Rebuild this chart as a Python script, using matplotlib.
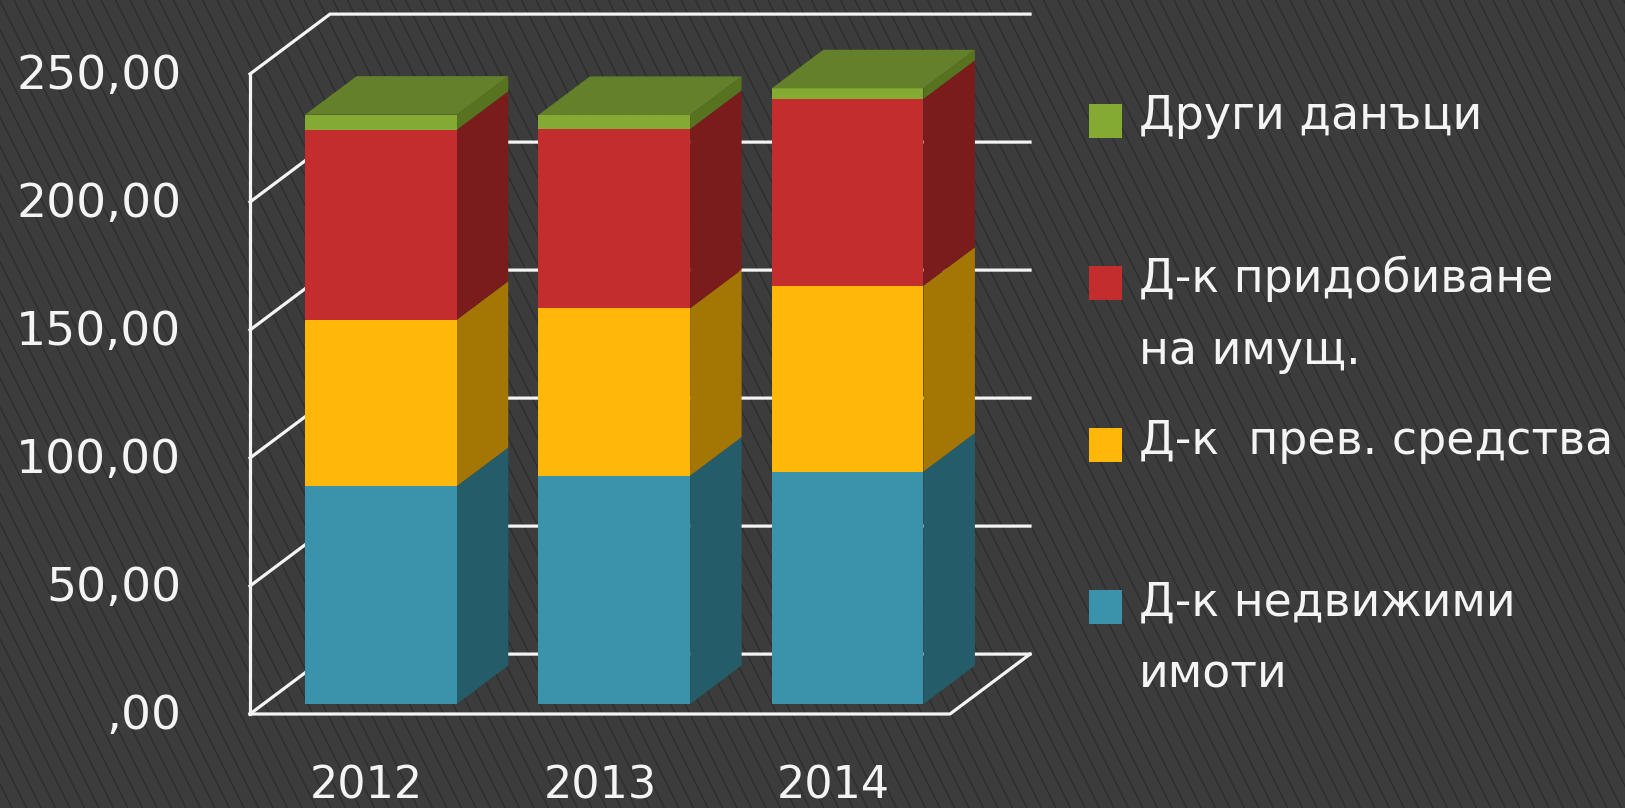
import matplotlib
matplotlib.use("Agg")
import matplotlib.pyplot as plt
import numpy as np
from matplotlib.patches import Polygon, Rectangle
from matplotlib.transforms import ScaledTranslation

years = ['2012', '2013', '2014']
ytick_vals = [0, 50, 100, 150, 200, 250]
ytick_labels = [',00', '50,00', '100,00', '150,00', '200,00', '250,00']

nedvizhimi = [85.1, 89.2, 90.8]
prev_sredstva = [65.0, 65.4, 72.6]
pridobivane = [74.2, 70.0, 73.0]
drugi = [5.9, 5.5, 4.1]

# bottom to top in the stack: values, front colour, side colour
series = [
    (nedvizhimi, '#3b92ab', '#245c6a'),
    (prev_sredstva, '#ffb70a', '#a47604'),
    (pridobivane, '#c32d2e', '#7a1c1c'),
    (drugi, '#84aa33', '#587320'),
]
top_colour = '#65802a'

# legend rows: text lines with baseline in pixels, square top in pixels, colour
legend_rows = [
    (['Други данъци'], [129], 104, '#84aa33'),
    (['Д-к придобиване', 'на имущ.'], [292, 364], 266, '#c32d2e'),
    (['Д-к  прев. средства'], [454], 428, '#ffb70a'),
    (['Д-к недвижими', 'имоти'], [616, 688], 590, '#3b92ab'),
]

W, H = 1625, 808
FONT = 'DejaVu Sans'
white = '#f4f4f4'
lw = 2.3

# oblique depth: how far a point at depth 1 moves, in data units
DEPTH_X = 0.343
DEPTH_Y = 23.4
bar_w = 0.65
d_front = 0.167
d_back = 0.81
bar_shift = 0.004


def proj(x, y, d):
    return (x + DEPTH_X * d, y + DEPTH_Y * d)


fig = plt.figure(figsize=(W / 100, H / 100), dpi=100, facecolor='#3c3c3c')

# background pattern
bg = fig.add_axes([0, 0, 1, 1], zorder=0)
bg.set_xlim(0, W)
bg.set_ylim(H, 0)
bg.axis('off')
for x0 in np.arange(-450, W + 14.5, 14.5):
    bg.plot([x0, x0 + 404], [0, H], color='#2e2e2e', lw=1.0, solid_capstyle='butt', zorder=1)

ax = fig.add_axes([250 / W, (H - 714) / H, 700 / W, 640 / H], zorder=1)
ax.patch.set_alpha(0)
ax.set_xlim(0, 3)
ax.set_ylim(0, 250)
for s in ax.spines.values():
    s.set_visible(False)

# walls and floor
for v in ytick_vals:
    p0 = proj(0, v, 0)
    p1 = proj(0, v, 1)
    p2 = proj(3, v, 1)
    ax.plot([p0[0], p1[0], p2[0]], [p0[1], p1[1], p2[1]], color=white, lw=lw,
            clip_on=False, solid_joinstyle='miter', zorder=1)
f0 = proj(0, 0, 0)
f1 = proj(3, 0, 0)
f2 = proj(3, 0, 1)
ax.plot([f0[0], f1[0], f2[0]], [f0[1], f1[1], f2[1]], color=white, lw=lw, clip_on=False, zorder=1)
ax.plot([0, 0], [0, 250], color=white, lw=lw, clip_on=False, zorder=1)

# stacked bars
for i in range(len(years)):
    left = i + 0.5 + bar_shift - bar_w / 2
    right = i + 0.5 + bar_shift + bar_w / 2
    base = 0
    for j, (vals, front, side) in enumerate(series):
        top = base + vals[i]
        ax.add_patch(Polygon([proj(right, base, d_front), proj(right, base, d_back),
                              proj(right, top, d_back), proj(right, top, d_front)],
                             facecolor=side, edgecolor='none', clip_on=False, zorder=3))
        ax.add_patch(Polygon([proj(left, base, d_front), proj(right, base, d_front),
                              proj(right, top, d_front), proj(left, top, d_front)],
                             facecolor=front, edgecolor='none', clip_on=False, zorder=3))
        base = top
    ax.add_patch(Polygon([proj(left, base, d_front), proj(right, base, d_front),
                          proj(right, base, d_back), proj(left, base, d_back)],
                         facecolor=top_colour, edgecolor='none', clip_on=False, zorder=3))

ax.set_xticks([i + 0.5 for i in range(len(years))])
ax.set_xticklabels(years, fontsize=32, color=white, family=FONT)
ax.set_yticks(ytick_vals)
ax.set_yticklabels(ytick_labels, fontsize=34, color=white, family=FONT, va='center_baseline')
ax.tick_params(axis='x', length=0, pad=36.5)
ax.tick_params(axis='y', length=0, pad=49.5)
for lab in ax.get_yticklabels():
    lab.set_transform(lab.get_transform() + ScaledTranslation(0, 0.02, fig.dpi_scale_trans))

# legend
for lines, baselines, sq_top, colour in legend_rows:
    bg.add_patch(Rectangle((1089, sq_top), 33, 34, facecolor=colour, edgecolor='none', zorder=5))
    for line, b in zip(lines, baselines):
        bg.text(1139, b, line, fontsize=33, color=white, family=FONT, ha='left', va='baseline', zorder=5)

fig.savefig('out.png', dpi=100, facecolor=fig.get_facecolor())
